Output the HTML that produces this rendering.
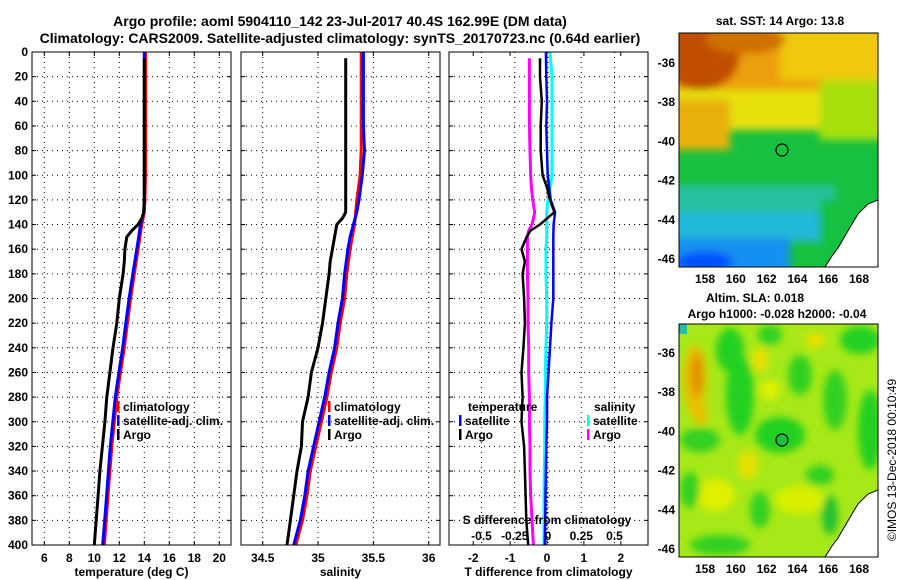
<!DOCTYPE html>
<html><head><meta charset="utf-8">
<style>
html,body{margin:0;padding:0;background:#fff;}
svg{display:block;font-family:"Liberation Sans",Arial,sans-serif;}
.b{font-weight:bold;}
</style></head>
<body>
<svg id="fig" width="900" height="580" viewBox="0 0 900 580" xmlns="http://www.w3.org/2000/svg">
<defs>
<filter id="blur6" x="-20%" y="-20%" width="140%" height="140%"><feGaussianBlur stdDeviation="4"/></filter>
<clipPath id="clipTop"><rect x="679" y="33" width="199" height="234"/></clipPath>
<clipPath id="clipBot"><rect x="679" y="324" width="199" height="233"/></clipPath>
</defs>
<text class="b" x="340" y="26" font-size="14" text-anchor="middle">Argo profile: aoml 5904110_142 23-Jul-2017 40.4S 162.99E (DM data)</text>
<text class="b" x="340" y="43" font-size="14" text-anchor="middle">Climatology: CARS2009. Satellite-adjusted climatology: synTS_20170723.nc (0.64d earlier)</text>
<g id="panels"></g>
<g id="maps">
<text class="b" x="780" y="25" font-size="12" text-anchor="middle">sat. SST: 14 Argo: 13.8</text>
<g clip-path="url(#clipTop)">
<rect x="679" y="33" width="199" height="234" fill="#18c040"/>
<g filter="url(#blur6)">
<rect x="660" y="20" width="240" height="80" fill="#eca010"/>
<rect x="780" y="20" width="120" height="60" fill="#f0c808"/>
<rect x="660" y="90" width="240" height="40" fill="#e8e010"/>
<rect x="820" y="80" width="80" height="60" fill="#a8e010"/>
<rect x="660" y="100" width="70" height="50" fill="#e8b010"/>
<ellipse cx="700" cy="55" rx="40" ry="35" fill="#c04e00"/>
<ellipse cx="745" cy="40" rx="40" ry="14" fill="#d07000"/>
<rect x="660" y="185" width="175" height="30" fill="#28c0a0"/>
<rect x="660" y="212" width="170" height="30" fill="#20b8d8"/>
<rect x="660" y="238" width="130" height="40" fill="#1890f0"/>
<ellipse cx="705" cy="262" rx="28" ry="10" fill="#0050ff"/>
<rect x="820" y="200" width="60" height="70" fill="#18c040"/>
</g>
<polygon points="878,200 868,204 858,214 852,224 845,236 838,248 832,256 825,267 878,267" fill="#fff" stroke="#000" stroke-width="1"/>
<circle cx="782" cy="150" r="6" fill="none" stroke="#000" stroke-width="1.2"/>
</g>
<rect x="679" y="33" width="199" height="234" fill="none" stroke="#000" stroke-width="1"/>
<text class="b" x="755" y="302" font-size="12" text-anchor="middle">Altim. SLA: 0.018</text>
<text class="b" x="777" y="318" font-size="12" text-anchor="middle">Argo h1000: -0.028 h2000: -0.04</text>
<g clip-path="url(#clipBot)">
<rect x="679" y="324" width="199" height="233" fill="#a8e818"/>
<g filter="url(#blur6)">
<ellipse cx="730" cy="350" rx="14" ry="22" fill="#20d020"/>
<ellipse cx="770" cy="335" rx="12" ry="10" fill="#30d020"/>
<ellipse cx="815" cy="340" rx="10" ry="8" fill="#e8e000"/>
<ellipse cx="860" cy="340" rx="20" ry="14" fill="#20d020"/>
<ellipse cx="740" cy="395" rx="14" ry="40" fill="#20d020"/>
<ellipse cx="800" cy="375" rx="12" ry="20" fill="#30d020"/>
<ellipse cx="835" cy="400" rx="12" ry="30" fill="#30d020"/>
<ellipse cx="870" cy="430" rx="12" ry="40" fill="#20d020"/>
<ellipse cx="780" cy="435" rx="25" ry="18" fill="#20d020"/>
<ellipse cx="700" cy="440" rx="20" ry="12" fill="#30d020"/>
<ellipse cx="695" cy="380" rx="12" ry="35" fill="#e8c000"/>
<ellipse cx="697" cy="375" rx="6" ry="22" fill="#e09000"/>
<ellipse cx="700" cy="415" rx="8" ry="10" fill="#e8c000"/>
<ellipse cx="748" cy="465" rx="10" ry="14" fill="#e8e000"/>
<ellipse cx="770" cy="390" rx="10" ry="10" fill="#e0f000"/>
<ellipse cx="760" cy="360" rx="8" ry="12" fill="#e8e000"/>
<ellipse cx="715" cy="495" rx="20" ry="16" fill="#e0f000"/>
<ellipse cx="690" cy="490" rx="10" ry="18" fill="#30d020"/>
<ellipse cx="760" cy="510" rx="10" ry="18" fill="#30d020"/>
<ellipse cx="820" cy="475" rx="14" ry="10" fill="#30d020"/>
<ellipse cx="800" cy="500" rx="25" ry="14" fill="#d8f000"/>
<ellipse cx="830" cy="515" rx="8" ry="20" fill="#20c030"/>
<ellipse cx="720" cy="545" rx="30" ry="10" fill="#30d020"/>
</g>
<rect x="679" y="324" width="8" height="10" fill="#20c0a0"/>
<polygon points="878,490 868,494 858,504 852,514 845,526 838,538 832,546 825,557 878,557" fill="#fff" stroke="#000" stroke-width="1"/>
<circle cx="782" cy="440" r="6" fill="#18c040" stroke="#000" stroke-width="1.2"/>
</g>
<rect x="679" y="324" width="199" height="233" fill="none" stroke="#000" stroke-width="1"/>
<text x="893" y="460" font-size="12" text-anchor="middle" transform="rotate(-90 893 460)" dominant-baseline="middle">©IMOS 13-Dec-2018 00:10:49</text>
</g>
</svg>
<script>
// ---- data ----
const climDepth = [0,20,40,60,80,100,120,130,140,150,160,180,200,220,240,260,280,300,320,340,360,380,400];
const argoDepth = [5,20,40,60,80,100,110,120,130,135,140,145,150,160,170,180,200,220,240,260,280,300,320,340,360,380,400];
const climT = [14.1,14.1,14.1,14.1,14.1,14.1,14.05,14.0,13.8,13.65,13.5,13.2,12.9,12.65,12.4,12.1,11.8,11.6,11.4,11.25,11.1,10.95,10.8];
const satT = [14.0,14.0,14.0,14.0,14.0,14.0,14.0,13.95,13.7,13.55,13.4,13.08,12.78,12.52,12.27,11.97,11.68,11.48,11.28,11.13,10.98,10.83,10.67];
const argoT = [14.0,14.0,14.0,14.0,14.0,14.0,14.0,14.0,13.95,13.8,13.5,13.0,12.6,12.45,12.4,12.3,12.0,11.8,11.5,11.25,11.0,10.85,10.65,10.45,10.3,10.15,10.0];
const climS = [35.39,35.39,35.39,35.39,35.39,35.38,35.35,35.34,35.33,35.31,35.29,35.26,35.24,35.20,35.17,35.12,35.08,35.03,34.98,34.93,34.90,34.86,34.80];
const satS = [35.41,35.41,35.41,35.41,35.42,35.40,35.37,35.35,35.32,35.29,35.27,35.24,35.22,35.18,35.15,35.10,35.06,35.01,34.96,34.91,34.88,34.84,34.78];
const argoS = [35.25,35.25,35.25,35.25,35.25,35.25,35.25,35.25,35.25,35.22,35.17,35.16,35.15,35.13,35.11,35.10,35.07,35.04,35.0,34.94,34.91,34.86,34.85,34.81,34.78,34.75,34.72];
const argoDT = [-0.19,-0.19,-0.14,-0.17,-0.17,-0.12,0.0,0.08,0.2,0.0,-0.19,-0.45,-0.55,-0.69,-0.6,-0.66,-0.62,-0.6,-0.64,-0.69,-0.66,-0.69,-0.62,-0.6,-0.58,-0.56,-0.51];
const satDT = [-0.03,-0.02,0.0,-0.02,0.0,0.02,0.1,0.22,0.18,0.17,0.17,0.17,0.17,0.12,0.08,0.04,0.0,0.0,-0.02,-0.03,-0.04,-0.05,-0.06];
const argoDS = [-0.14,-0.14,-0.14,-0.14,-0.135,-0.13,-0.125,-0.115,-0.1,-0.11,-0.12,-0.145,-0.155,-0.155,-0.155,-0.155,-0.15,-0.15,-0.145,-0.145,-0.14,-0.14,-0.135,-0.135,-0.13,-0.12,-0.11];
const satDS = [0.015,0.03,0.03,0.03,0.03,0.03,0.0,-0.01,-0.01,-0.01,-0.015,-0.015,-0.01,-0.01,-0.015,-0.02,-0.02,-0.025,-0.025,-0.028,-0.03,-0.03,-0.03];
const depthTicks = [0,20,40,60,80,100,120,140,160,180,200,220,240,260,280,300,320,340,360,380,400];
const tTicks = [6,8,10,12,14,16,18,20];
const sTicks = [34.5,35,35.5,36];
const dtTicks = [-2,-1,0,1,2];
const dsTicks = [-0.5,-0.25,0,0.25,0.5];
const dsTickLabels = ["-0.5","-0.25","0","0.25","0.5"];

const NS = "http://www.w3.org/2000/svg";
const root = document.getElementById('panels');
const TOP = 52, BOT = 545;
const yS = d => TOP + d / 400 * (BOT - TOP);
function mk(tag, attrs, parent) {
  const e = document.createElementNS(NS, tag);
  for (const k in attrs) e.setAttribute(k, attrs[k]);
  (parent || root).appendChild(e);
  return e;
}
function lin(d0, d1, r0, r1) { return v => r0 + (v - d0) / (d1 - d0) * (r1 - r0); }

const panels = [
  {x0: 32, x1: 231, name: 'temperature-panel', xs: lin(6, 20, 44.3, 219.3), ticks: tTicks, labels: tTicks.map(String), title: 'temperature (deg C)'},
  {x0: 241, x1: 440, name: 'salinity-panel', xs: lin(34.5, 36, 262.7, 428.7), ticks: sTicks, labels: sTicks.map(String), title: 'salinity'},
  {x0: 449, x1: 648, name: 'difference-panel', xs: lin(-2, 2, 473.2, 620.8), ticks: dtTicks, labels: dtTicks.map(String), title: 'T difference from climatology'}
];
const dsX = lin(-0.5, 0.5, 481.5, 614.5);

panels.forEach((p, pi) => {
  const g = mk('g', {});
  
  
  depthTicks.forEach(d => {
    const y = yS(d);
    if (d > 0 && d < 400) {
      const l = mk('line', {x1: p.x0, x2: p.x1, y1: y, y2: y, stroke: '#000', 'stroke-width': 1, 'stroke-dasharray': '1,4'}, g);
      
      
    }
    mk('line', {x1: p.x0, x2: p.x0 + 4, y1: y, y2: y, stroke: '#000'}, g);
    mk('line', {x1: p.x1 - 4, x2: p.x1, y1: y, y2: y, stroke: '#000'}, g);
  });
  const vt = pi === 2 ? dsTicks.map(dsX) : p.ticks.map(p.xs);
  vt.forEach(x => {
    const l = mk('line', {x1: x, x2: x, y1: TOP, y2: BOT, stroke: '#000', 'stroke-width': 1, 'stroke-dasharray': '1,4'}, g);
    
    
  });
  p.ticks.forEach((t, i) => {
    const x = p.xs(t);
    mk('line', {x1: x, x2: x, y1: BOT - 4, y2: BOT, stroke: '#000'}, g);
    mk('line', {x1: x, x2: x, y1: TOP, y2: TOP + 4, stroke: '#000'}, g);
    const tx = mk('text', {x: x, y: 562, 'font-size': 12, 'font-weight': 'bold', 'text-anchor': 'middle'}, g);
    tx.textContent = p.labels[i];
    
    
  });
  const tt = mk('text', {x: (p.x0 + p.x1) / 2, y: 576, 'font-size': 12, 'font-weight': 'bold', 'text-anchor': 'middle'}, g);
  tt.textContent = p.title;
  
  
  p.g = g;
});
depthTicks.forEach(d => {
  const t = mk('text', {x: 28, y: yS(d) + 4, 'font-size': 12, 'font-weight': 'bold', 'text-anchor': 'end'});
  t.textContent = String(d);
  
  
});
{
  const l = mk('line', {x1: 547, x2: 547, y1: TOP, y2: BOT, stroke: '#000', 'stroke-width': 1, 'stroke-dasharray': '2,2'});
  
  
}
function series(vals, depths, xs, color, w, name) {
  const pts = vals.map((v, i) => xs(v).toFixed(1) + ',' + yS(depths[i]).toFixed(1)).join(' ');
  const pl = mk('polyline', {points: pts, fill: 'none', stroke: color, 'stroke-width': w, 'stroke-linejoin': 'round'});
  
  
}
series(climT, climDepth, panels[0].xs, '#ff0000', 3, 'climatology-temperature-line');
series(satT, climDepth, panels[0].xs, '#0000ff', 3, 'satellite-temperature-line');
series(argoT, argoDepth, panels[0].xs, '#000000', 3, 'argo-temperature-line');
series(climS, climDepth, panels[1].xs, '#ff0000', 3, 'climatology-salinity-line');
series(satS, climDepth, panels[1].xs, '#0000ff', 3, 'satellite-salinity-line');
series(argoS, argoDepth, panels[1].xs, '#000000', 3, 'argo-salinity-line');
series(argoDS, argoDepth, dsX, '#ff00ff', 3, 'argo-salinity-diff-line');
series(satDS, climDepth, dsX, '#00ffff', 3, 'satellite-salinity-diff-line');
series(satDT, climDepth, panels[2].xs, '#0000ff', 2.5, 'satellite-temperature-diff-line');
series(argoDT, argoDepth, panels[2].xs, '#000000', 2.5, 'argo-temperature-diff-line');

panels.forEach(p => {
  const r = mk('rect', {x: p.x0, y: TOP, width: p.x1 - p.x0, height: BOT - TOP, fill: 'none', stroke: '#000', 'stroke-width': 1});
  
  
});
{
  const t = mk('text', {x: 547, y: 524, 'font-size': 12, 'font-weight': 'bold', 'text-anchor': 'middle'});
  t.textContent = 'S difference from climatology';
  
  
  dsTicks.forEach((v, i) => {
    const l = mk('text', {x: dsX(v), y: 540, 'font-size': 12, 'font-weight': 'bold', 'text-anchor': 'middle'});
    l.textContent = dsTickLabels[i];
    
    
  });
}
function legend(x, y, color, label) {
  const g = mk('g', {});
  
  
  if (color) mk('rect', {x: x, y: y - 10, width: 2.5, height: 11, fill: color}, g);
  const t = mk('text', {x: x + (color ? 6 : 0), y: y, 'font-size': 12, 'font-weight': 'bold'}, g);
  t.textContent = label;
}
legend(117, 411, '#ff0000', 'climatology');
legend(117, 425, '#0000ff', 'satellite-adj. clim.');
legend(117, 439, '#000000', 'Argo');
legend(328, 411, '#ff0000', 'climatology');
legend(328, 425, '#0000ff', 'satellite-adj. clim.');
legend(328, 439, '#000000', 'Argo');
legend(468, 411, null, 'temperature');
legend(459, 425, '#0000ff', 'satellite');
legend(459, 439, '#000000', 'Argo');
legend(594, 411, null, 'salinity');
legend(587, 425, '#00ffff', 'satellite');
legend(587, 439, '#ff00ff', 'Argo');

const lonTicks = [158,160,162,164,166,168];
const latTicks = [-36,-38,-40,-42,-44,-46];
const lonX = lin(158, 168, 705, 859);
[[33, 267, 63], [324, 557, 353]].forEach(([y0, y1, y36], mi) => {
  const latY = v => y36 + (-36 - v) * 19.6;
  latTicks.forEach(v => {
    const y = latY(v);
    mk('line', {x1: 679, x2: 683, y1: y, y2: y, stroke: '#000'});
    mk('line', {x1: 874, x2: 878, y1: y, y2: y, stroke: '#000'});
    const t = mk('text', {x: 675, y: y + 4, 'font-size': 12, 'font-weight': 'bold', 'text-anchor': 'end'});
    t.textContent = String(v);
    
    
  });
  lonTicks.forEach(v => {
    const x = lonX(v);
    mk('line', {x1: x, x2: x, y1: y1 - 4, y2: y1, stroke: '#000'});
    mk('line', {x1: x, x2: x, y1: y0, y2: y0 + 4, stroke: '#000'});
    const t = mk('text', {x: x, y: y1 + 16, 'font-size': 12, 'font-weight': 'bold', 'text-anchor': 'middle'});
    t.textContent = String(v);
    
    
  });
});
</script>
</body></html>
